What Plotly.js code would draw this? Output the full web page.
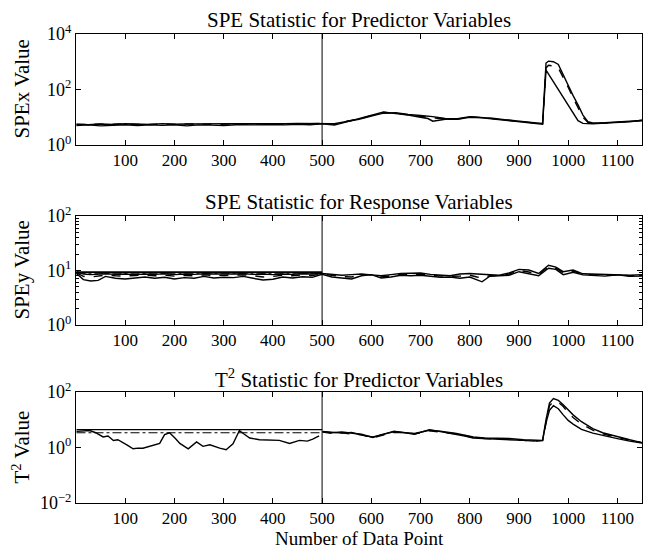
<!DOCTYPE html>
<html>
<head>
<meta charset="utf-8">
<script src="https://cdn.plot.ly/plotly-3.0.1.min.js"></script>
<style>html,body{margin:0;padding:0;background:#fff;}#chart{width:652px;height:548px;}</style>
</head>
<body>
<div id="chart"></div>
<script>
// ---------- data ----------
const xTicks = [100,200,300,400,500,600,700,800,900,1000,1100];
const splitX = 500;

// Panel 1: SPE statistic, predictor variables
const x1 = [1,25,50,75,100,125,150,175,200,225,250,275,300,325,350,375,400,425,450,475,500,
  525,550,575,600,625,650,675,700,715,725,750,775,800,825,850,875,900,925,948,
  955,960,970,980,990,1000,1010,1020,1030,1040,1050,1075,1100,1125,1150];
const spexA = [5.6,5.4,5.7,5.5,5.8,5.6,5.5,5.9,5.6,5.7,5.8,5.6,5.7,5.9,5.8,5.7,5.9,5.8,6.0,5.9,6.1,
  5.8,7.0,8.5,11,14,14.5,12.5,11.5,11,10.5,9,8.8,10.5,10,9,8,7,6.5,6.0,
  900,1050,1000,800,330,145,60,28,12,7,6.2,6.3,6.6,7.0,7.6];
const spexB = [5.5,5.6,5.5,5.6,5.7,5.5,5.6,5.7,5.6,5.6,5.7,5.6,5.6,5.8,5.7,5.7,5.8,5.7,5.9,5.8,6.0,
  5.6,7.2,8.6,11.5,14.8,14,12.2,11,10.2,9.5,8.8,8.6,10.2,9.8,8.8,7.8,7.0,6.4,5.9,
  600,750,700,600,280,120,50,22,10,6.5,6.1,6.2,6.5,6.9,7.6];
const spexC = [5.0,5.3,4.9,5.2,5.4,5.0,5.3,5.1,5.4,4.9,5.3,5.2,5.0,5.4,5.2,5.3,5.5,5.3,5.6,5.4,5.8,
  5.2,6.8,8.8,12,15.5,13.5,12,10,9,7.2,8.5,8.5,10,9.5,8.5,7.6,6.8,6.2,5.6,
  500,360,190,100,52,28,14,7.5,6.0,5.8,5.8,6.2,6.4,6.9,7.8];

// Panel 2: SPE statistic, response variables
const x2 = [1,15,30,45,60,80,100,120,140,160,180,200,220,240,260,280,300,320,340,360,380,400,420,440,460,480,500,
  520,540,560,580,600,620,640,660,680,700,720,740,760,780,800,815,825,840,860,880,900,920,940,960,975,990,1010,1030,1050,1075,1100,1125,1150];
const speyA = [9.5,8.6,8.4,8.5,8.7,8.5,8.6,8.4,8.6,8.5,8.7,8.4,8.6,8.5,8.7,8.6,8.5,8.6,8.7,8.5,8.6,8.4,8.6,8.5,8.7,8.6,8.8,
  8.6,8.2,8.4,8.6,8.3,8.0,8.4,8.8,8.9,9.0,8.5,8.2,8.0,8.6,8.8,8.6,8.5,8.2,8.2,9.0,10.5,10.2,8.8,12.5,11.5,9.5,10.2,8.7,8.6,8.4,8.5,8.2,8.4];
const speyB = [9.0,7.8,7.6,7.9,8.2,8.0,7.9,8.1,8.2,8.0,8.2,7.9,8.1,8.0,8.3,8.1,8.2,8.1,8.3,8.0,7.6,7.8,8.2,8.0,8.3,8.1,8.6,
  8.2,7.7,7.6,8.3,8.4,7.6,8.0,8.5,8.5,8.6,8.1,7.9,7.8,7.9,8.2,7.6,7.3,8.0,8.1,8.6,10,9.4,8.4,11.8,11,9.0,9.8,8.5,8.4,8.1,8.4,8.0,8.1];
const speyC = [8.8,6.8,6.4,6.6,7.8,7.2,7.0,7.3,7.6,7.2,7.5,7.0,7.4,7.2,7.8,7.3,7.5,7.4,7.8,7.2,6.7,6.9,7.6,7.3,7.7,7.5,8.5,
  7.6,7.2,7.0,8.0,8.4,7.3,7.6,8.2,8.0,8.2,7.8,7.5,7.6,7.2,7.6,6.8,6.2,7.8,8.0,8.2,9.5,8.6,8.0,11,10.5,8.4,9.3,8.3,8.2,7.9,8.3,7.8,7.9];

// Panel 3: T^2 statistic, predictor variables
const x3a = [1,15,28,40,55,65,76,85,96,105,116,126,136,146,157,170,180,190,201,211,228,245,258,272,292,305,319,332,342,353,373,393,413,434,454,470,481,494];
const x3b = [501,520,540,560,580,603,620,646,670,688,718,740,773,790,807,830,858,880,909,930,948,
  955,962,970,980,990,1000,1010,1027,1050,1070,1100,1125,1150];
const t2C_a = [3.8,3.9,4.1,3.4,2.4,2.6,1.8,1.9,1.5,1.2,0.9,0.95,0.94,1.05,1.15,1.4,2.9,3.4,2.2,1.4,0.9,1.6,1.1,1.25,0.95,0.83,1.35,4.1,3.0,2.2,1.9,1.9,1.8,1.4,1.8,1.7,2.0,2.6];
const t2C_b = [3.8,3.6,3.3,3.5,2.8,2.4,2.8,3.9,3.3,3.0,4.4,3.8,3.0,2.6,2.2,2.1,2.1,2.0,1.8,1.7,1.8,
  8,22,32,25,15,9.5,7,4.5,3.3,2.7,2.1,1.7,1.45];
const t2A_b = [3.7,3.4,3.6,3.2,3.0,2.3,2.9,3.7,3.5,3.2,4.2,3.9,3.2,2.8,2.4,2.2,2.2,2.1,1.9,1.8,1.8,
  10,40,58,50,35,22,15,8.5,4.8,3.4,2.4,1.9,1.5];
const t2B_b = [3.6,3.2,3.4,3.0,2.9,2.2,2.7,3.5,3.4,3.1,4.0,3.7,3.1,2.7,2.3,2.1,2.1,2.0,1.8,1.7,1.8,
  9,32,45,42,30,18,12,7,4.2,3.1,2.3,1.8,1.5];

// Control limits over the first 500 points
const limX = [1, 500];
const lim2Solid = [9.3, 9.3];
const lim2Dash = [8.9, 8.9];
const lim3Solid = [4.4, 4.4];
const lim3Dash = [3.4, 3.4];

const titles = ['SPE Statistic for Predictor Variables','SPE Statistic for Response Variables','T<sup>2</sup> Statistic for Predictor Variables'];
const yTitles = ['SPEx Value','SPEy Value','T<sup>2</sup> Value'];
const yTickVals = [[1,100,10000],[1,10,100],[0.01,1,100]];
const yTickText = [['10<sup>0</sup>','10<sup>2</sup>','10<sup>4</sup>'],['10<sup>0</sup>','10<sup>1</sup>','10<sup>2</sup>'],['10<sup>−2</sup>','10<sup>0</sup>','10<sup>2</sup>']];
const yRanges = [[0,4],[0,2],[-2,2]];
const minor2 = [2,3,4,5,6,7,8,9,20,30,40,50,60,70,80,90];

// ---------- plot ----------
const FONT = 'Liberation Serif, Times New Roman, serif';
const LW = 1.4;
function ln(x, y, ax, dash, w) {
  return {x: x, y: y, xaxis: 'x' + ax, yaxis: 'y' + ax, type: 'scatter', mode: 'lines',
    line: {color: '#000', width: w || LW, dash: dash || 'solid'}, hoverinfo: 'skip', showlegend: false};
}
const traces = [
  ln(x1, spexA, ''), ln(x1, spexB, '', 'dash'), ln(x1, spexC, ''),
  ln(limX, lim2Solid, '2', 'solid', 1.8), ln(limX, lim2Dash, '2', 'dashdot', 1),
  ln(x2, speyA, '2'), ln(x2, speyB, '2', 'dash'), ln(x2, speyC, '2'),
  ln(limX, lim3Solid, '3', 'solid', 1.4), ln(limX, lim3Dash, '3', 'dashdot', 1),
  ln(x3a, t2C_a, '3'), ln(x3b, t2C_b, '3'), ln(x3b, t2A_b, '3'), ln(x3b, t2B_b, '3', 'dash')
];

const T = 34, B = 45, H = 548 - T - B;
const pix = [[34,145],[216,325],[392,503]];
const dom = p => [(548 - B - p[1]) / H, (548 - B - p[0]) / H];

const layout = {
  width: 652, height: 548,
  margin: {l: 76, r: 10, t: T, b: B, pad: 0},
  paper_bgcolor: '#fff', plot_bgcolor: '#fff',
  font: {family: FONT, color: '#000', size: 17},
  showlegend: false,
  shapes: [], annotations: []
};
['', '2', '3'].forEach((s, i) => {
  layout['xaxis' + s] = {
    domain: [0, 1], anchor: 'y' + s, range: [0, 1150],
    tickvals: xTicks, ticks: 'inside', ticklen: 5, tickcolor: '#000',
    showline: true, linecolor: '#000', linewidth: 1, mirror: 'ticks',
    showgrid: false, zeroline: false, tickfont: {family: FONT, size: 17, color: '#000'}
  };
  const ya = {
    domain: dom(pix[i]), anchor: 'x' + s, type: 'log', range: yRanges[i],
    tickvals: yTickVals[i], ticktext: yTickText[i], ticks: 'inside', ticklen: 5, tickcolor: '#000',
    showline: true, linecolor: '#000', linewidth: 1, mirror: 'ticks',
    showgrid: false, zeroline: false, tickfont: {family: FONT, size: 18, color: '#000'}
  };
  if (i === 1) ya.minor = {tickvals: minor2, ticks: 'inside', ticklen: 3, tickcolor: '#000', showgrid: false};
  layout['yaxis' + s] = ya;
  layout.shapes.push({type: 'line', xref: 'x' + s, yref: 'y' + s + ' domain', x0: splitX, x1: splitX, y0: 0, y1: 1,
    line: {color: '#000', width: 1}});
  const d = dom(pix[i]);
  layout.annotations.push({text: titles[i], xref: 'paper', yref: 'paper', x: 0.5, y: (548 - B - (pix[i][0] - 14)) / H,
    xanchor: 'center', yanchor: 'middle', showarrow: false, font: {family: FONT, size: 21, color: '#000'}});
  layout.annotations.push({text: yTitles[i], xref: 'paper', yref: 'paper', x: (21 - 76) / 566, y: (d[0] + d[1]) / 2,
    xanchor: 'center', yanchor: 'middle', textangle: -90, showarrow: false, font: {family: FONT, size: 21, color: '#000'}});
});
layout.annotations.push({text: 'Number of Data Point', xref: 'paper', yref: 'paper', x: 0.5, y: (548 - B - 538.5) / H,
  xanchor: 'center', yanchor: 'middle', showarrow: false, font: {family: FONT, size: 19, color: '#000'}});

Plotly.newPlot('chart', traces, layout, {displayModeBar: false, staticPlot: true});
</script>
</body>
</html>
